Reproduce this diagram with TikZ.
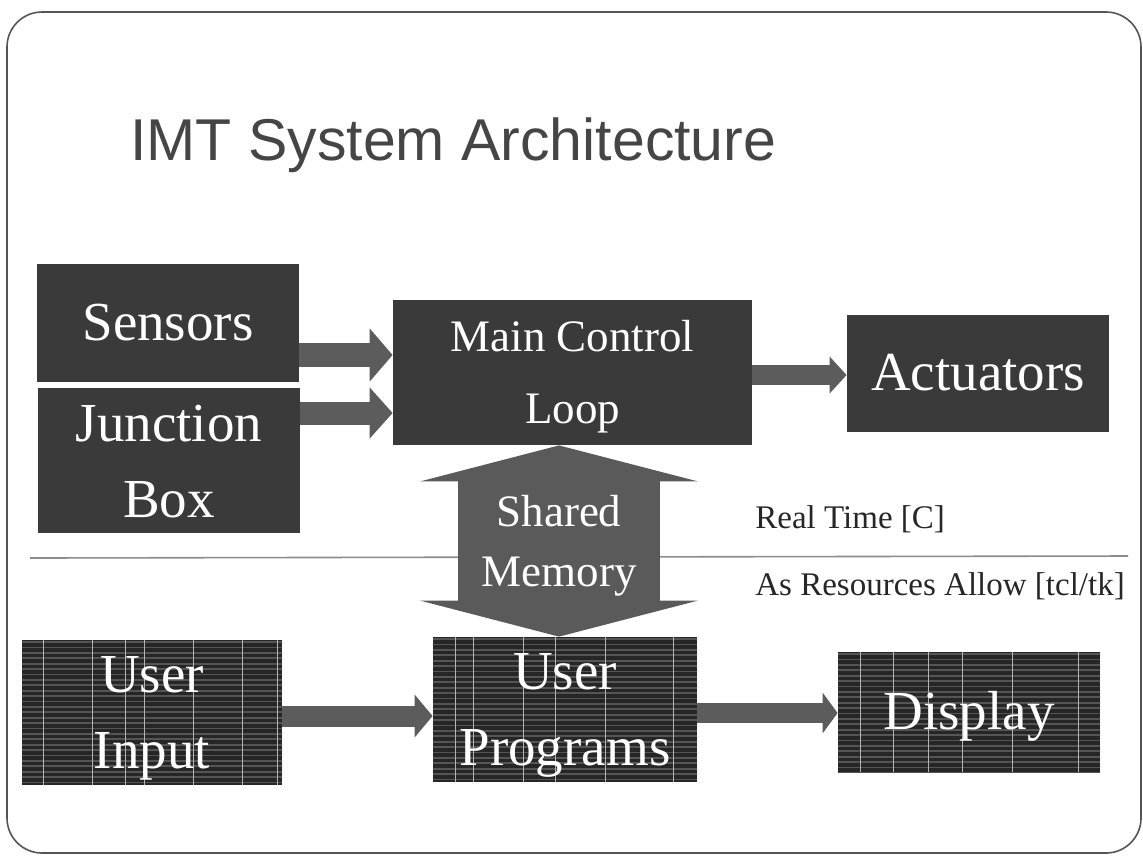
\documentclass[tikz,border=0pt]{standalone}
\usepackage{fontspec}
\setmainfont{Liberation Serif}
\newfontfamily\titlefont{Liberation Sans}
\usetikzlibrary{arrows.meta}
\definecolor{boxdark}{HTML}{3A3A3A}
\definecolor{griddark}{HTML}{262626}
\definecolor{stripegray}{HTML}{555555}
\definecolor{vlinegray}{HTML}{B4B4B4}
\definecolor{arrowgray}{HTML}{5C5C5C}
\definecolor{memgray}{HTML}{5A5A5A}
\definecolor{framegray}{HTML}{555555}
\definecolor{divgray}{HTML}{8C8C8C}
\definecolor{titlegray}{HTML}{454545}
\begin{document}
\begin{tikzpicture}[x=0.5pt,y=-0.5pt,
  darkbox/.style={fill=boxdark, inner sep=0pt, text=white, align=center, text depth=0pt},
  bigtext/.style={font=\fontsize{27.5}{38}\selectfont},
  midtext/.style={font=\fontsize{22.5}{36}\selectfont},
  memtext/.style={font=\fontsize{22.5}{30}\selectfont, text height=45pt, text depth=0pt, text=white, align=center, inner sep=0pt},
  gridbox/.style={darkbox, fill=griddark,
    path picture={
      \foreach \k in {0,...,29}
        \draw[stripegray, line width=0.9pt]
          ([yshift=-\k*2.7pt-1pt]path picture bounding box.north west) -- ++(150pt,0pt);
      \foreach \xx in {#1}
        \draw[vlinegray, line width=0.5pt]
          ([xshift=\xx*0.5pt]path picture bounding box.north west) --
          ([xshift=\xx*0.5pt]path picture bounding box.south west);
    }},
  barrow/.style n args={3}{draw=arrowgray, line width=#1, -{Triangle[length=#2,width=#3]}},
  dblarrow/.style={draw=memgray, line width=101pt,
    {Triangle[length=18pt,width=138.5pt]}-{Triangle[length=18pt,width=138.5pt]}},
  note/.style={font=\fontsize{16.5}{20}\selectfont, anchor=base west, inner sep=0pt, text=black!85},
  frame/.style={draw=framegray, line width=0.8pt, rounded corners=17.5pt},
  divider/.style={draw=divgray, line width=0.8pt}
]
\useasboundingbox (0,0) rectangle (1143,858);
\draw[frame] (7,12) rectangle (1141,853);
\node[anchor=base west, inner sep=0pt, font=\titlefont\fontsize{29.5}{34}\selectfont, text=titlegray] (title) at (130,160) {IMT System Architecture};

\coordinate (divL) at (30,558);
\coordinate (divR) at (1128,556);
\draw[divider] (divL) -- (divR);

\node[note] (rt) at (755,528) {Real Time [C]};
\node[note] (ra) at (755,595) {As Resources Allow [tcl/tk]};

\node[darkbox,bigtext,text height=17pt,minimum width=131pt,minimum height=59pt] (sensors) at (168,323) {Sensors};
\node[darkbox,bigtext,text height=56.5pt,minimum width=131pt,minimum height=72.5pt] (junction) at (169,460.5) {Junction\\Box};
\node[darkbox,midtext,text height=51pt,minimum width=179.5pt,minimum height=72.5pt] (main) at (572.5,372.5) {Main Control\\Loop};
\node[darkbox,bigtext,text height=17pt,minimum width=131pt,minimum height=58.5pt] (act) at (978,373.5) {Actuators};

\node[gridbox={21,70,103,122,171,220,255},bigtext,text height=56pt,minimum width=130pt,minimum height=72.5pt] (ui) at (152,712.5) {User\\Input};
\node[gridbox={22,40,90,122,172,240},bigtext,text height=56pt,minimum width=132pt,minimum height=72.5pt] (prog) at (565,709.5) {User\\Programs};
\node[gridbox={22,55,90,124,174,240},bigtext,text height=17pt,minimum width=131pt,minimum height=60pt] (disp) at (969,712) {Display};

\draw[barrow={12pt}{11.5pt}{26pt}] (sensors.east |- 0,355) -- (main.west |- 0,355);
\draw[barrow={11.5pt}{11.5pt}{25pt}] (junction.east |- 0,413) -- (main.west |- 0,413);
\draw[barrow={10pt}{8.5pt}{18pt}] (main.east |- 0,375) -- (act.west |- 0,375);
\draw[barrow={10.5pt}{9pt}{21pt}] (ui.east |- 0,716) -- (prog.west |- 0,716);
\draw[barrow={10pt}{7.5pt}{20pt}] (prog.east |- 0,713) -- (disp.west |- 0,713);

\draw[dblarrow] (559,0 |- main.south) -- node[memtext] (shm) {Shared\\Memory} (559,0 |- prog.north);
\end{tikzpicture}
\end{document}
